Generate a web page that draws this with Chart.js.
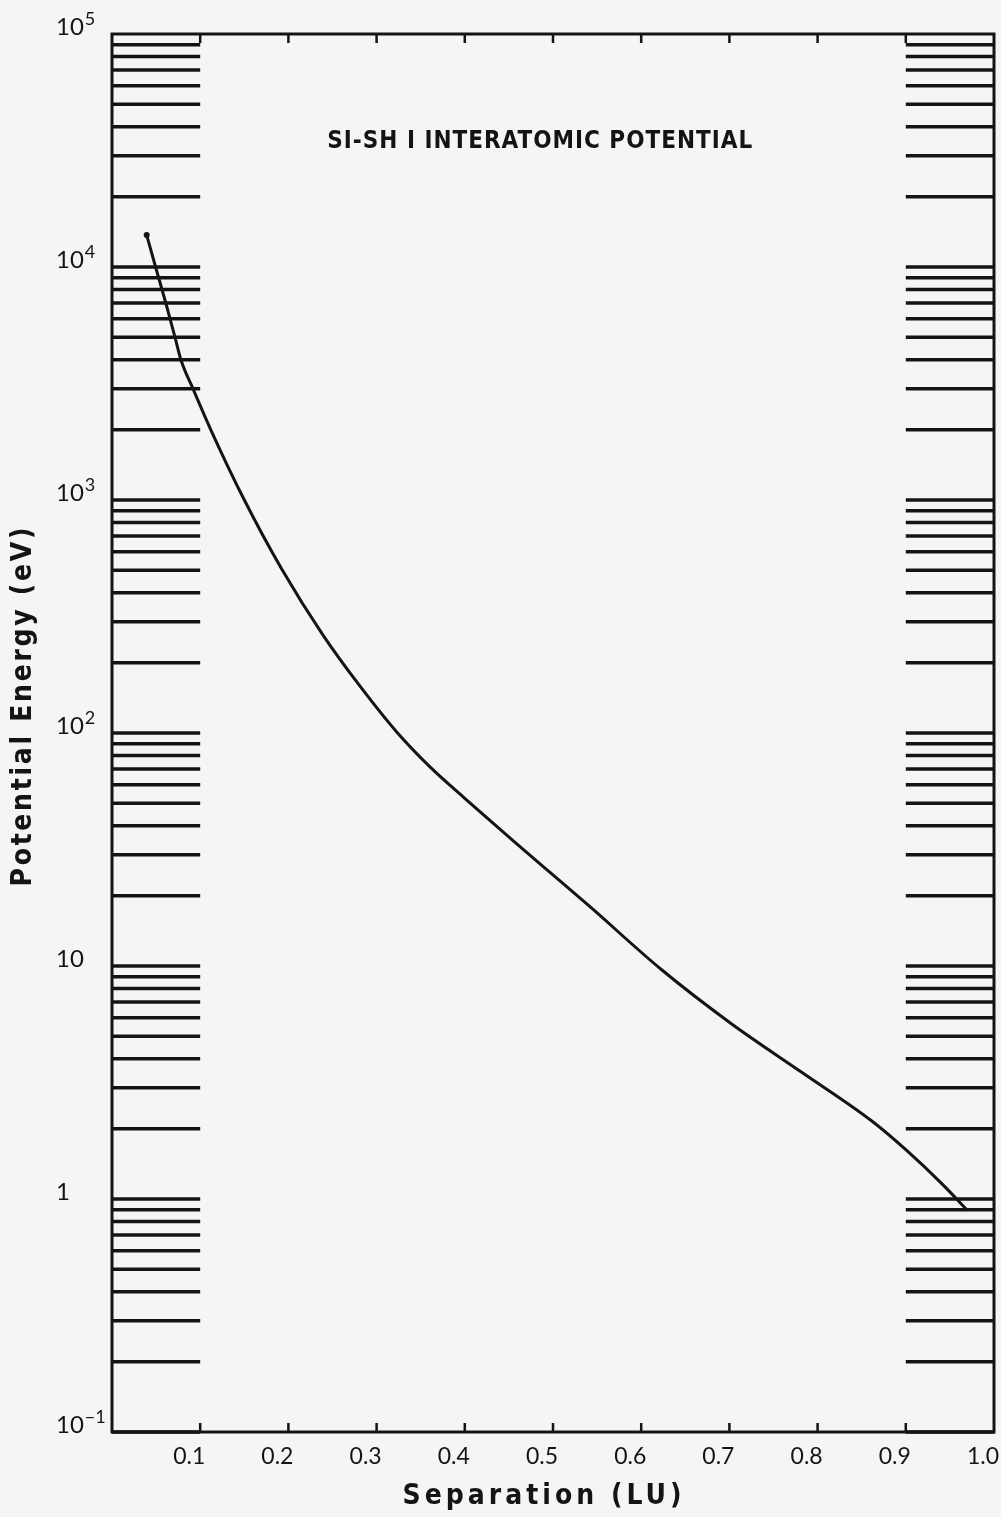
<!DOCTYPE html>
<html>
<head>
<meta charset="utf-8">
<title>Si-Si interatomic potential</title>
<script src="https://cdn.jsdelivr.net/npm/chart.js@4.4.1/dist/chart.umd.min.js"></script>
<style>
  html, body { margin: 0; padding: 0; background: #f5f5f3; }
  #wrap { width: 1001px; height: 1517px; position: relative; }
</style>
</head>
<body>
<div id="wrap"><canvas id="potentialChart"></canvas></div>
<script>
// values
const separation = [0.0393, 0.0494, 0.0610, 0.0714, 0.0782, 0.0922, 0.1119, 0.1489, 0.1924, 0.2396, 0.2812, 0.3228,
                    0.3605, 0.3983, 0.4550, 0.5079, 0.5429, 0.6228, 0.7026, 0.7824, 0.8622, 0.9022, 0.9422, 0.9701];
const energy = [13720, 10000, 7005, 5005, 3990, 2980, 2007, 1020, 505.6, 261.8, 158.8, 101,
                71.5, 53.1, 34.4, 23.2, 17.83, 9.66, 5.64, 3.49, 2.15, 1.60, 1.15, 0.892];

const xTickValues = [0.1, 0.2, 0.3, 0.4, 0.5, 0.6, 0.7, 0.8, 0.9, 1.0];
const yLabelValues = [0.1, 1, 10, 100, 1000, 10000, 100000];
const yLabelBase = ['10', '1', '10', '10', '10', '10', '10'];
const yLabelExp = ['\u22121', '', '', '2', '3', '4', '5'];

// side scale bars: every 1..9 x 10^n inside these separation bands
const barMantissas = [1, 2, 3, 4, 5, 6, 7, 8, 9];
const barDecades = [-1, 0, 1, 2, 3, 4];
const barBands = [[0, 0.1], [0.9, 1.0]];

const chartTitle = 'SI-SH I INTERATOMIC POTENTIAL';
const xTitle = 'Separation (LU)';
const yTitle = 'Potential Energy (eV)';

const INK = '#141414';
const TITLE_FONT = 'bold 28px "Liberation Sans Narrow", "DejaVu Sans Condensed", "Liberation Sans", sans-serif';

// draw a string stretched over a given width (plotter style lettering)
function spreadText(ctx, text, cx, cy, width) {
    ctx.textBaseline = 'middle';
    if (!('letterSpacing' in ctx)) {
        ctx.textAlign = 'center';
        ctx.fillText(text, cx, cy);
        return;
    }
    ctx.letterSpacing = '0px';
    const w = ctx.measureText(text).width;
    const gap = Math.max(0, (width - w) / (text.length - 1));
    ctx.letterSpacing = gap + 'px';
    ctx.textAlign = 'left';
    ctx.fillText(text, cx - width / 2, cy);
    ctx.letterSpacing = '0px';
}

const plotterMarks = {
    id: 'plotterMarks',
    afterDraw(chart) {
        const { ctx, chartArea, scales: { x, y } } = chart;
        const px = v => x.getPixelForValue(v);
        const py = v => y.getPixelForValue(v);

        ctx.save();
        ctx.strokeStyle = INK;
        ctx.fillStyle = INK;

        // scale bars in the side bands
        ctx.lineWidth = 3.5;
        barDecades.forEach(d => {
            barMantissas.forEach(m => {
                const v = m * Math.pow(10, d);
                barBands.forEach(([a, b]) => {
                    ctx.beginPath();
                    ctx.moveTo(px(a), py(v));
                    ctx.lineTo(px(b), py(v));
                    ctx.stroke();
                });
            });
        });

        // frame
        ctx.lineWidth = 3;
        ctx.strokeRect(px(0), py(1e5), px(1) - px(0), py(0.1) - py(1e5));

        // short inward ticks on top and bottom edges
        ctx.lineWidth = 2.5;
        xTickValues.slice(0, -1).forEach(v => {
            ctx.beginPath();
            ctx.moveTo(px(v), py(1e5));
            ctx.lineTo(px(v), py(1e5) + 9);
            ctx.moveTo(px(v), py(0.1));
            ctx.lineTo(px(v), py(0.1) - 9);
            ctx.stroke();
        });

        // y labels with superscript exponents
        ctx.textAlign = 'left';
        ctx.textBaseline = 'middle';
        yLabelValues.forEach((v, i) => {
            const ly = py(v) - 7;
            ctx.font = '24px Lato, sans-serif';
            ctx.fillText(yLabelBase[i], 56, ly);
            if (yLabelExp[i]) {
                const bw = ctx.measureText(yLabelBase[i]).width;
                ctx.font = '18px Lato, sans-serif';
                ctx.fillText(yLabelExp[i], 56 + bw + 1, ly - 8);
            }
        });

        // chart title inside the frame
        ctx.font = 'bold 24px "DejaVu Sans Condensed", "DejaVu Sans", sans-serif';
        spreadText(ctx, chartTitle, chartArea.left + chartArea.width * 0.485, chartArea.top + 108, 425);

        // axis titles
        ctx.font = TITLE_FONT;
        spreadText(ctx, xTitle, (chartArea.left + chartArea.right) / 2 - 11, chartArea.bottom + 65, 279);

        ctx.save();
        ctx.translate(24, (chartArea.top + chartArea.bottom) / 2 - 26);
        ctx.rotate(-Math.PI / 2);
        spreadText(ctx, yTitle, 0, 0, 359);
        ctx.restore();

        ctx.restore();
    }
};

new Chart(document.getElementById('potentialChart'), {
    type: 'line',
    data: {
        datasets: [{
            data: separation.map((s, i) => ({ x: s, y: energy[i] })),
            borderColor: INK,
            borderWidth: 3,
            pointRadius: c => (c.dataIndex === 0 ? 3 : 0),
            pointBackgroundColor: INK,
            pointBorderWidth: 0,
            cubicInterpolationMode: 'monotone',
            fill: false
        }]
    },
    options: {
        responsive: true,
        maintainAspectRatio: false,
        animation: false,
        layout: { padding: { left: 0, right: 7, top: 34, bottom: 0 } },
        plugins: {
            legend: { display: false },
            tooltip: { enabled: false }
        },
        scales: {
            x: {
                type: 'linear',
                min: 0,
                max: 1,
                afterBuildTicks: s => { s.ticks = xTickValues.map(v => ({ value: v })); },
                afterFit: s => {
                    s.height = 85;
                    s.paddingLeft = 0;
                    s.paddingRight = 0;
                },
                grid: { display: false, drawTicks: false },
                border: { display: false },
                ticks: {
                    color: INK,
                    font: { size: 23, family: 'Lato' },
                    padding: 11,
                    labelOffset: -11,
                    maxRotation: 0,
                    autoSkip: false,
                    callback: v => v.toFixed(1)
                }
            },
            y: {
                type: 'logarithmic',
                min: 0.1,
                max: 100000,
                afterFit: s => {
                    s.width = 112;
                    s.paddingTop = 0;
                    s.paddingBottom = 0;
                },
                grid: { display: false, drawTicks: false },
                border: { display: false },
                ticks: { display: false }
            }
        }
    },
    plugins: [plotterMarks]
});
</script>
</body>
</html>
